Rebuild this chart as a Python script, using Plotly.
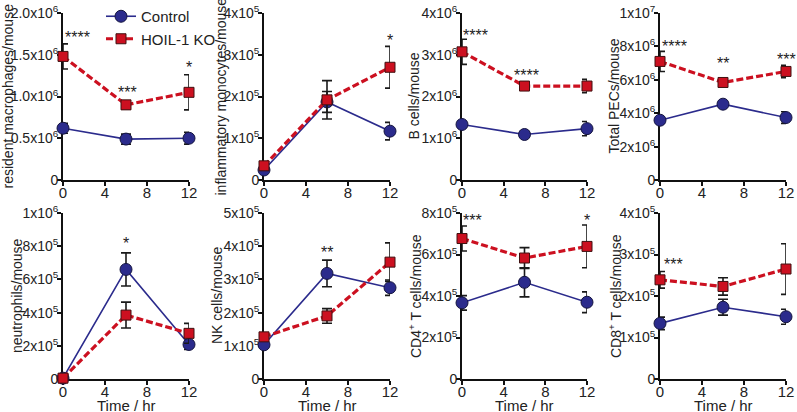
import plotly.graph_objects as go

W, H = 797, 412
time = [0, 6, 12]

titles = ["resident macrophages/mouse", "inflammatory monocytes/mouse", "B cells/mouse",
          "Total PECs/mouse", "neutrophils/mouse", "NK cells/mouse",
          "CD4<sup>+</sup> T cells/mouse", "CD8<sup>+</sup> T cells/mouse"]
xtitle = "Time / hr"

ctrl = [[0.62e6, 0.49e6, 0.50e6], [0.24e5, 1.87e5, 1.17e5], [1.33e6, 1.09e6, 1.23e6],
        [3.58e6, 4.54e6, 3.74e6], [0.05e5, 6.6e5, 2.08e5], [1.03e5, 3.18e5, 2.75e5],
        [3.67e5, 4.66e5, 3.70e5], [1.34e5, 1.73e5, 1.50e5]]
ctrl_err = [[0.06e6, 0.06e6, 0.07e6], [0.04e5, 0.25e5, 0.21e5], [0.05e6, 0.04e6, 0.17e6],
            [0.15e6, 0.12e6, 0.35e6], [0.02e5, 1.0e5, 0.3e5], [0.05e5, 0.40e5, 0.23e5],
            [0.35e5, 0.70e5, 0.50e5], [0.15e5, 0.19e5, 0.18e5]]
ko = [[1.48e6, 0.90e6, 1.05e6], [0.34e5, 1.92e5, 2.70e5], [3.07e6, 2.25e6, 2.25e6],
      [7.1e6, 5.84e6, 6.5e6], [0.05e5, 3.85e5, 2.75e5], [1.27e5, 1.90e5, 3.52e5],
      [6.77e5, 5.83e5, 6.39e5], [2.39e5, 2.23e5, 2.65e5]]
ko_err = [[0.15e6, 0.05e6, 0.21e6], [0.05e5, 0.46e5, 0.50e5], [0.30e6, 0.10e6, 0.16e6],
          [0.6e6, 0.15e6, 0.37e6], [0.02e5, 0.78e5, 0.6e5], [0.05e5, 0.22e5, 0.58e5],
          [0.60e5, 0.50e5, 1.03e5], [0.20e5, 0.21e5, 0.61e5]]

ytickvals = [[0, 0.5e6, 1.0e6, 1.5e6, 2.0e6], [0, 1e5, 2e5, 3e5, 4e5], [0, 1e6, 2e6, 3e6, 4e6],
             [0, 2e6, 4e6, 6e6, 8e6, 1e7], [0, 2e5, 4e5, 6e5, 8e5, 1e6], [0, 1e5, 2e5, 3e5, 4e5, 5e5],
             [0, 2e5, 4e5, 6e5, 8e5], [0, 1e5, 2e5, 3e5, 4e5]]
yticktext = [["0", "0.5x10<sup>6</sup>", "1.0x10<sup>6</sup>", "1.5x10<sup>6</sup>", "2.0x10<sup>6</sup>"],
             ["0", "1x10<sup>5</sup>", "2x10<sup>5</sup>", "3x10<sup>5</sup>", "4x10<sup>5</sup>"],
             ["0", "1x10<sup>6</sup>", "2x10<sup>6</sup>", "3x10<sup>6</sup>", "4x10<sup>6</sup>"],
             ["0", "2x10<sup>6</sup>", "4x10<sup>6</sup>", "6x10<sup>6</sup>", "8x10<sup>6</sup>", "1x10<sup>7</sup>"],
             ["0", "2x10<sup>5</sup>", "4x10<sup>5</sup>", "6x10<sup>5</sup>", "8x10<sup>5</sup>", "1x10<sup>6</sup>"],
             ["0", "1x10<sup>5</sup>", "2x10<sup>5</sup>", "3x10<sup>5</sup>", "4x10<sup>5</sup>", "5x10<sup>5</sup>"],
             ["0", "2x10<sup>5</sup>", "4x10<sup>5</sup>", "6x10<sup>5</sup>", "8x10<sup>5</sup>"],
             ["0", "1x10<sup>5</sup>", "2x10<sup>5</sup>", "3x10<sup>5</sup>", "4x10<sup>5</sup>"]]
xtickvals = [0, 4, 8, 12]

star_text = [["****", "***", "*"], ["*"], ["****", "****", "**"], ["****", "**", "***"],
             ["*"], ["**"], ["***", "*"], ["***"]]
star_x = [[1.35, 6.1, 12], [12], [1.3, 6.2, 12.2], [1.4, 6.0, 12.0],
          [6], [6], [1.0, 12], [1.3]]
star_y = [[1.71e6, 1.05e6, 1.35e6], [3.33e5], [3.45e6, 2.51e6, 2.59e6], [8.02e6, 6.95e6, 7.19e6],
          [8.19e5], [3.80e5], [7.66e5, 7.66e5], [2.75e5]]

# layout geometry (pixels)
col_px = [(63, 189), (264, 390), (462, 587), (660, 786)]
row_px = [(13, 180), (213, 379)]
title_x_px = [7, 220, 413, 613, 17, 217, 415, 615]
xtitle_y_px = 405

FONT = "Liberation Sans, Arial, Helvetica, sans-serif"
INK = "#222222"
NAVY = "#2b2b8c"
RED = "#cc1020"

fig = go.Figure()
annotations = []
for i in range(8):
    r, c = divmod(i, 4)
    xa = "x" if i == 0 else f"x{i+1}"
    ya = "y" if i == 0 else f"y{i+1}"
    fig.add_trace(go.Scatter(
        x=time, y=ctrl[i], xaxis=xa, yaxis=ya, name="Control", legendgroup="c",
        showlegend=(i == 0), mode="lines+markers", cliponaxis=False,
        line=dict(color=NAVY, width=1.6),
        marker=dict(symbol="circle", size=12, color=NAVY, line=dict(color="#151540", width=1)),
        error_y=dict(type="data", array=ctrl_err[i], color="#1a1a1a", thickness=1.6, width=5)))
    fig.add_trace(go.Scatter(
        x=time, y=ko[i], xaxis=xa, yaxis=ya, name="HOIL-1 KO", legendgroup="k",
        showlegend=(i == 0), mode="lines+markers", cliponaxis=False,
        line=dict(color=RED, width=3.2, dash="7px,3px"),
        marker=dict(symbol="square", size=10, color=RED, line=dict(color="#401010", width=1)),
        error_y=dict(type="data", array=ko_err[i], color="#1a1a1a", thickness=1.6, width=5)))

    x0, x1 = col_px[c]
    yt, yb = row_px[r]
    xkey = "xaxis" if i == 0 else f"xaxis{i+1}"
    ykey = "yaxis" if i == 0 else f"yaxis{i+1}"
    fig.update_layout({
        xkey: dict(domain=[x0 / W, x1 / W], anchor=ya, range=[0, 12], tickvals=xtickvals,
                   ticktext=[str(v) for v in xtickvals], ticks="outside", ticklen=4, tickwidth=1.6,
                   tickcolor="#111", showline=True, linewidth=2, linecolor="#111", showgrid=False,
                   zeroline=False, automargin=False, ticklabelstandoff=-6,
                   tickfont=dict(size=15, color=INK, family=FONT), layer="below traces"),
        ykey: dict(domain=[1 - yb / H, 1 - yt / H], anchor=xa, range=[0, ytickvals[i][-1]],
                   tickvals=ytickvals[i], ticktext=yticktext[i], ticks="outside", ticklen=4, tickwidth=1.6,
                   tickcolor="#111", showline=True, linewidth=2, linecolor="#111", showgrid=False,
                   zeroline=False, automargin=False, ticklabelstandoff=-4,
                   tickfont=dict(size=14, color=INK, family=FONT), layer="below traces"),
    })
    annotations.append(dict(text=titles[i], xref="paper", yref="paper",
                            x=title_x_px[i] / W, y=1 - (yt + yb) / 2 / H, textangle=-90,
                            showarrow=False, xanchor="center", yanchor="middle",
                            font=dict(size=14, color=INK, family=FONT)))
    if r == 1:
        annotations.append(dict(text=xtitle, xref="paper", yref="paper",
                                x=(x0 + x1) / 2 / W, y=1 - xtitle_y_px / H,
                                showarrow=False, xanchor="center", yanchor="middle",
                                font=dict(size=15, color=INK, family=FONT)))
    for t, sx, sy in zip(star_text[i], star_x[i], star_y[i]):
        annotations.append(dict(text=t, x=sx, y=sy, xref=xa, yref=ya, showarrow=False,
                                xanchor="center", yanchor="middle",
                                font=dict(size=16, color=INK, family=FONT)))

fig.update_layout(
    template="none",
    width=W, height=H, margin=dict(l=0, r=0, t=0, b=0, autoexpand=False),
    paper_bgcolor="white", plot_bgcolor="white",
    font=dict(family=FONT, color=INK),
    annotations=annotations,
    legend=dict(x=101 / W, y=1.0, xanchor="left", yanchor="top", bgcolor="rgba(0,0,0,0)",
                font=dict(size=15, color=INK, family=FONT), itemwidth=30, tracegroupgap=0),
    showlegend=True,
)

fig.write_html("out.html", config={"displayModeBar": False},
               post_script="document.body.style.margin='0px';")
